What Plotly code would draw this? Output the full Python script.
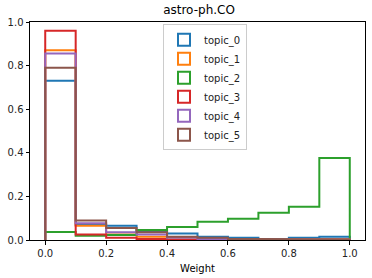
import plotly.graph_objects as go

edges = [0.0, 0.1, 0.2, 0.3, 0.4, 0.5, 0.6, 0.7, 0.8, 0.9, 1.0]
topics = ["topic_0", "topic_1", "topic_2", "topic_3", "topic_4", "topic_5"]
topic_0 = [0.73, 0.07, 0.065, 0.04, 0.03, 0.015, 0.01, 0.005, 0.01, 0.015]
topic_1 = [0.87, 0.065, 0.025, 0.015, 0.01, 0.005, 0.003, 0.002, 0.003, 0.005]
topic_2 = [0.037, 0.02, 0.023, 0.046, 0.06, 0.084, 0.098, 0.125, 0.153, 0.376]
topic_3 = [0.96, 0.025, 0.01, 0.005, 0.0, 0.0, 0.0, 0.0, 0.0, 0.0]
topic_4 = [0.855, 0.077, 0.035, 0.025, 0.01, 0.005, 0.003, 0.002, 0.002, 0.002]
topic_5 = [0.79, 0.09, 0.055, 0.035, 0.015, 0.01, 0.005, 0.005, 0.003, 0.002]
series = [topic_0, topic_1, topic_2, topic_3, topic_4, topic_5]
colors = ["#1f77b4", "#ff7f0e", "#2ca02c", "#d62728", "#9467bd", "#8c564b"]

fig = go.Figure()
for name, vals, c in zip(topics, series, colors):
    xs = [edges[0]]
    ys = [0]
    for i, v in enumerate(vals):
        xs += [edges[i], edges[i + 1]]
        ys += [v, v]
    xs.append(edges[-1])
    ys.append(0)
    fig.add_trace(go.Scatter(x=xs, y=ys, mode="lines", name=name,
                             line=dict(color=c, width=2), showlegend=False))
    # legend entry drawn as an outlined box (like matplotlib step patches)
    fig.add_trace(go.Bar(x=[None], y=[None], name=name,
                         marker=dict(color="rgba(0,0,0,0)", line=dict(color=c, width=2))))

axis_common = dict(showline=True, linecolor="black", linewidth=1, mirror=True,
                   ticks="outside", ticklen=3.5, tickcolor="black", showgrid=False,
                   zeroline=False, automargin=False,
                   tickfont=dict(family="DejaVu Sans", size=10, color="#222"))
fig.update_layout(
    width=372, height=278,
    margin=dict(l=30, r=7, t=22, b=38),
    plot_bgcolor="white", paper_bgcolor="white",
    title=dict(text="astro-ph.CO", x=0.535, xanchor="center", y=0.965, yanchor="middle",
               font=dict(family="DejaVu Sans", size=12, color="black")),
    xaxis=dict(range=[-0.05, 1.05], tickvals=[0, 0.2, 0.4, 0.6, 0.8, 1.0],
               ticktext=["0.0", "0.2", "0.4", "0.6", "0.8", "1.0"],
               title=dict(text="Weight", font=dict(family="DejaVu Sans", size=10, color="black"), standoff=7),
               **axis_common),
    yaxis=dict(range=[0, 1.0], tickvals=[0, 0.2, 0.4, 0.6, 0.8, 1.0],
               ticktext=["0.0", "0.2", "0.4", "0.6", "0.8", "1.0"], **axis_common),
    legend=dict(x=0.397, y=0.99, xanchor="left", yanchor="top",
                bordercolor="#cccccc", borderwidth=1, bgcolor="rgba(255,255,255,0.8)",
                font=dict(family="DejaVu Sans", size=10, color="#222"),
                tracegroupgap=0, itemwidth=30),
    showlegend=True,
)
fig.write_html("out.html", config={"displayModeBar": False},
               post_script="document.body.style.margin='0';")
